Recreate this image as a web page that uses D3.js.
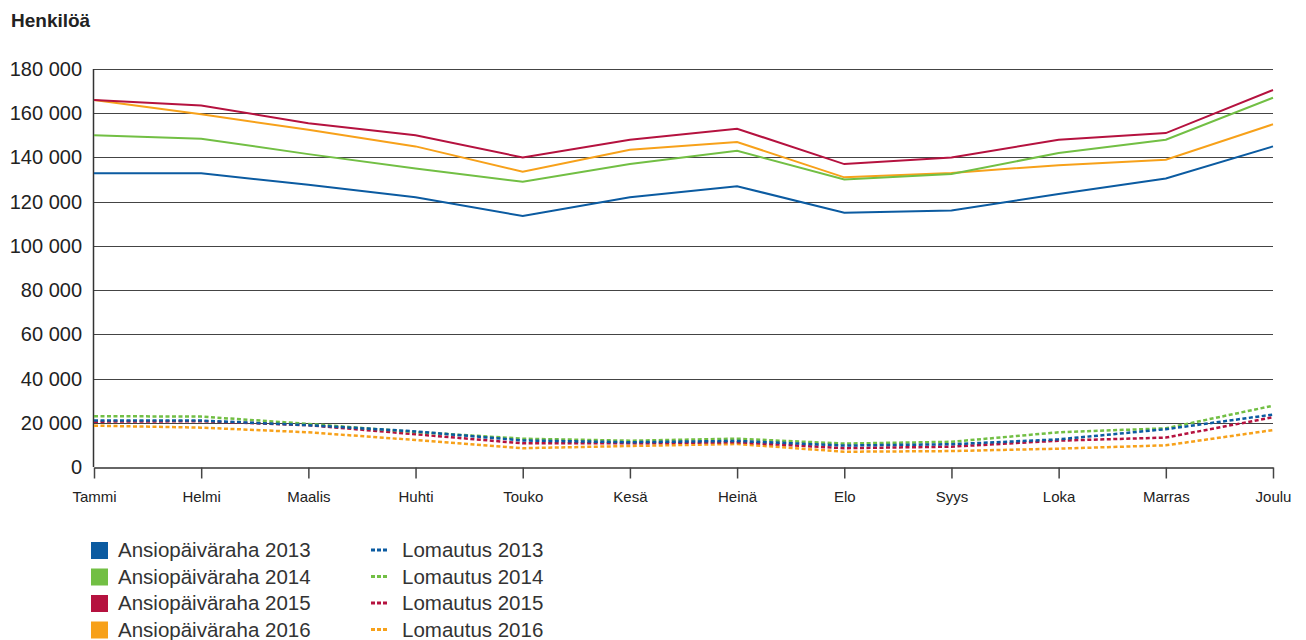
<!DOCTYPE html>
<html>
<head>
<meta charset="utf-8">
<script src="https://cdn.jsdelivr.net/npm/d3@7"></script>
<style>
  body { margin: 0; background: #fff; }
  svg { font-family: "Liberation Sans", Arial, sans-serif; }
</style>
</head>
<body>
<svg id="chart" width="1306" height="640"></svg>
<script>
const months = ['Tammi','Helmi','Maalis','Huhti','Touko','Kesä','Heinä','Elo','Syys','Loka','Marras','Joulu'];
const yTicks = [0, 20000, 40000, 60000, 80000, 100000, 120000, 140000, 160000, 180000];

const ansio2013 = [132900, 132900, 127600, 122000, 113500, 122000, 127000, 115000, 116000, 123500, 130500, 145000];
const ansio2014 = [150000, 148500, 141500, 135000, 129000, 137000, 143000, 130000, 132500, 142000, 148000, 167000];
const ansio2015 = [166000, 163500, 155500, 150000, 140000, 148000, 153000, 137000, 140000, 148000, 151000, 170500];
const ansio2016 = [166000, 159500, 152500, 145000, 133500, 143500, 147000, 131000, 133000, 136500, 139000, 155000];

const lomautus2013 = [21000, 21000, 18900, 16100, 12000, 11200, 11800, 9700, 10300, 12500, 17100, 23700];
const lomautus2014 = [23000, 22800, 19500, 15800, 12800, 11900, 12800, 10600, 11400, 15700, 17500, 27700];
const lomautus2015 = [20500, 20700, 18900, 14800, 10700, 10700, 11200, 8500, 9200, 11900, 13300, 22500];
const lomautus2016 = [18700, 17800, 15700, 12200, 8500, 9500, 10400, 6900, 7200, 8300, 9800, 16700];

const colors = ['#0b5ba1', '#72bf44', '#b5123f', '#f7a11a'];

const series = [
    {name: 'Ansiopäiväraha 2013', values: ansio2013, color: colors[0], dashed: false},
    {name: 'Ansiopäiväraha 2014', values: ansio2014, color: colors[1], dashed: false},
    {name: 'Ansiopäiväraha 2015', values: ansio2015, color: colors[2], dashed: false},
    {name: 'Ansiopäiväraha 2016', values: ansio2016, color: colors[3], dashed: false},
    {name: 'Lomautus 2013', values: lomautus2013, color: colors[0], dashed: true},
    {name: 'Lomautus 2014', values: lomautus2014, color: colors[1], dashed: true},
    {name: 'Lomautus 2015', values: lomautus2015, color: colors[2], dashed: true},
    {name: 'Lomautus 2016', values: lomautus2016, color: colors[3], dashed: true}
];

const svg = d3.select('#chart');

const xScale = d3.scalePoint()
    .domain(months)
    .range([94, 1273]);

const yScale = d3.scaleLinear()
    .domain([0, 180000])
    .range([467, 69]);

const fmt = v => d3.format(',')(v).replace(/,/g, ' ');

// title
svg.append('text')
    .attr('x', 11).attr('y', 27)
    .style('font-size', '19px')
    .style('font-weight', 'bold')
    .style('fill', '#222')
    .text('Henkilöä');

// gridlines
svg.append('g')
    .selectAll('line')
    .data(yTicks.filter(d => d > 0))
    .enter().append('line')
    .attr('x1', 93).attr('x2', 1273)
    .attr('y1', d => Math.round(yScale(d)) + 0.5)
    .attr('y2', d => Math.round(yScale(d)) + 0.5)
    .style('stroke', '#444')
    .style('stroke-width', 1);

// y labels
svg.append('g')
    .selectAll('text')
    .data(yTicks)
    .enter().append('text')
    .attr('x', 82)
    .attr('y', d => yScale(d) + 7)
    .attr('text-anchor', 'end')
    .style('font-size', '20px')
    .style('fill', '#222')
    .text(fmt);

// x axis
const xAxis = svg.append('g')
    .attr('transform', 'translate(0,' + (yScale(0) + 0.5) + ')')
    .call(d3.axisBottom(xScale).tickSize(11).tickSizeOuter(0).tickPadding(13));
xAxis.select('.domain').style('stroke', '#333').style('stroke-width', 1.5);
xAxis.selectAll('.tick line').style('stroke', '#444').style('stroke-width', 1.5);
xAxis.selectAll('.tick text')
    .style('font-size', '15px')
    .style('fill', '#222')
    .style('font-family', '"Liberation Sans", Arial, sans-serif');

// left axis line
svg.append('line')
    .attr('x1', 93.5).attr('x2', 93.5)
    .attr('y1', yScale(180000)).attr('y2', yScale(0))
    .style('stroke', '#333')
    .style('stroke-width', 1.5);

const line = d3.line()
    .x((d, i) => xScale(months[i]))
    .y(d => yScale(d));

svg.append('g')
    .selectAll('path')
    .data(series.slice().reverse())
    .enter().append('path')
    .attr('d', d => line(d.values))
    .style('fill', 'none')
    .style('stroke', d => d.color)
    .style('stroke-width', d => d.dashed ? 2.5 : 2)
    .style('stroke-dasharray', d => d.dashed ? '4,2.5' : null);

// legend
const legend = svg.append('g')
    .selectAll('g')
    .data(series)
    .enter().append('g')
    .attr('transform', (d, i) => 'translate(' + (i < 4 ? 91 : 371) + ',' + (550 + (i % 4) * 26.5) + ')');

legend.filter(d => !d.dashed).append('rect')
    .attr('x', 0).attr('y', -8)
    .attr('width', 17).attr('height', 17)
    .style('fill', d => d.color);

legend.filter(d => d.dashed).append('line')
    .attr('x1', 0).attr('x2', 16)
    .attr('y1', 0).attr('y2', 0)
    .style('stroke', d => d.color)
    .style('stroke-width', 3)
    .style('stroke-dasharray', '4,2');

legend.append('text')
    .attr('x', d => d.dashed ? 31 : 27)
    .attr('y', 7)
    .style('font-size', '20.5px')
    .style('fill', '#333')
    .text(d => d.name);
</script>
</body>
</html>
